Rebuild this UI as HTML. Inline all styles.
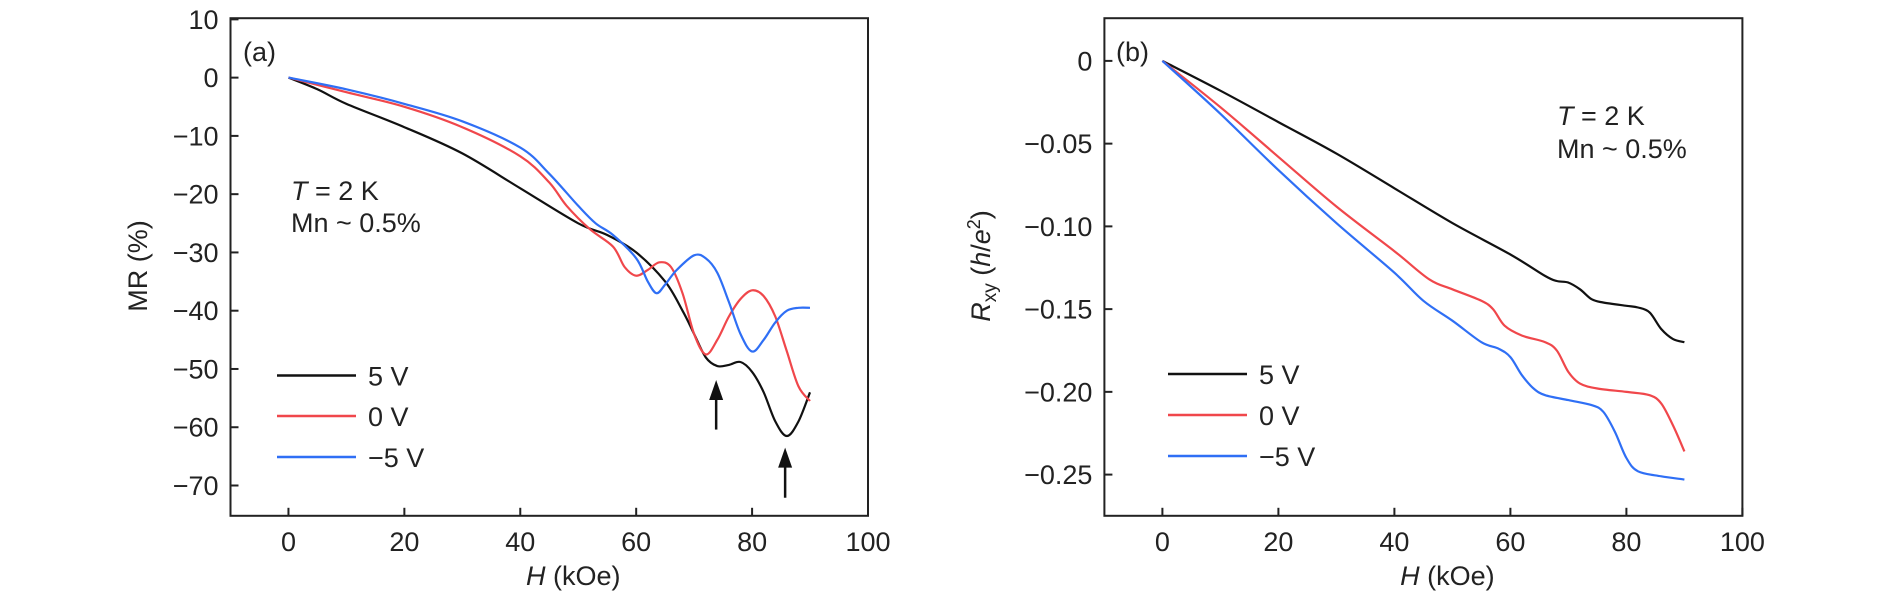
<!DOCTYPE html>
<html><head><meta charset="utf-8">
<style>
html,body{margin:0;padding:0;background:#fff;}
svg{display:block;font-family:"Liberation Sans",sans-serif;}
text{font-size:27px;fill:#222;}
</style></head>
<body>
<svg id="chart" width="1890" height="596" viewBox="0 0 1890 596"></svg>
<script>
// Panel (a) data: MR (%) vs H (kOe)
const aH5 = [0,5,10,20,30,40,50,55,60,65,68,70,72,74,76,78,80,82,84,86,88,90];
const aMR5 = [0,-2,-4.5,-8.5,-13,-19,-25,-27,-30,-35,-40,-44,-48,-49.5,-49.3,-48.8,-50.5,-54,-59,-61.5,-59,-54];
const aH0 = [0,10,20,30,40,45,48,52,56,58,60,62,64,66,68,70,72,74,76,78,80,82,84,86,88,90];
const aMR0 = [0,-2.5,-5,-8.5,-13.5,-18,-22,-26,-29,-32.5,-34,-33,-31.7,-32.5,-37,-44,-47.5,-45,-41,-38,-36.5,-37.5,-41,-47,-53,-55.5];
const aHm5 = [0,10,20,30,40,45,50,53,56,60,62,63.5,65,67,70,72,74,76,78,80,82,84,86,88,90];
const aMRm5 = [0,-2,-4.5,-7.5,-12,-16.5,-22,-25,-27,-31,-35,-37,-35.5,-33,-30.5,-31,-33.5,-38.5,-44,-47,-45,-42,-40,-39.5,-39.5];
const aYTicks = [10,0,-10,-20,-30,-40,-50,-60,-70];
const aYTickLabels = ["10","0","\u221210","\u221220","\u221230","\u221240","\u221250","\u221260","\u221270"];
const xTicks = [0,20,40,60,80,100];
const xTickLabels = ["0","20","40","60","80","100"];
const arrowH = [73.8,85.7];
const arrowTip = [-51.9,-63.5];
const arrowTail = [-60.4,-72.1];
// Panel (b) data: Rxy (h/e^2) vs H
const bH5 = [0,10,20,30,40,50,60,66,68,70,72,74,76,80,82,84,86,88,90];
const bR5 = [0,-0.018,-0.037,-0.056,-0.077,-0.098,-0.117,-0.13,-0.133,-0.134,-0.138,-0.144,-0.146,-0.148,-0.149,-0.152,-0.162,-0.168,-0.17];
const bH0 = [0,10,20,30,40,46,50,55,57,59,62,66,68,70,72,75,80,84,86,88,90];
const bR0 = [0,-0.028,-0.058,-0.088,-0.115,-0.132,-0.138,-0.145,-0.150,-0.160,-0.166,-0.170,-0.175,-0.188,-0.195,-0.198,-0.200,-0.202,-0.207,-0.220,-0.236];
const bHm5 = [0,10,20,30,40,45,50,55,58,60,62,64,66,70,74,76,78,80,82,86,90];
const bRm5 = [0,-0.032,-0.066,-0.098,-0.128,-0.145,-0.157,-0.170,-0.174,-0.179,-0.190,-0.198,-0.202,-0.205,-0.208,-0.212,-0.224,-0.240,-0.248,-0.251,-0.253];
const bYTicks = [0,-0.05,-0.10,-0.15,-0.20,-0.25];
const bYTickLabels = ["0","\u22120.05","\u22120.10","\u22120.15","\u22120.20","\u22120.25"];
const legendLabels = ["5 V","0 V","\u22125 V"];
const colors = ["#111","#f0474b","#2f6ff5"];

const NS="http://www.w3.org/2000/svg";
const svg=document.getElementById('chart');
function mk(tag,attrs,parent){const e=document.createElementNS(NS,tag);for(const k in attrs)e.setAttribute(k,attrs[k]);(parent||svg).appendChild(e);return e;}
function smooth(pts){
  let d='M'+pts[0][0].toFixed(1)+' '+pts[0][1].toFixed(1);
  for(let i=0;i<pts.length-1;i++){
    const p0=pts[Math.max(0,i-1)],p1=pts[i],p2=pts[i+1],p3=pts[Math.min(pts.length-1,i+2)];
    const c1x=p1[0]+(p2[0]-p0[0])/6,c1y=p1[1]+(p2[1]-p0[1])/6;
    const c2x=p2[0]-(p3[0]-p1[0])/6,c2y=p2[1]-(p3[1]-p1[1])/6;
    d+=` C${c1x.toFixed(1)} ${c1y.toFixed(1)} ${c2x.toFixed(1)} ${c2y.toFixed(1)} ${p2[0].toFixed(1)} ${p2[1].toFixed(1)}`;
  }
  return d;
}

function panel(cfg){
  const g=mk('g',{});
  
  
  const sx=v=>cfg.x0+(v-cfg.xmin)/(cfg.xmax-cfg.xmin)*(cfg.x1-cfg.x0);
  const sy=v=>cfg.y1-(v-cfg.ymin)/(cfg.ymax-cfg.ymin)*(cfg.y1-cfg.y0);
  const box=mk('rect',{x:cfg.x0,y:cfg.y0,width:cfg.x1-cfg.x0,height:cfg.y1-cfg.y0,fill:'none',stroke:'#222','stroke-width':2},g);
  
  
  xTicks.forEach((t,i)=>{
    const x=sx(t);
    mk('line',{x1:x,x2:x,y1:cfg.y1,y2:cfg.y1-8,stroke:'#222','stroke-width':2},g);
    const tx=mk('text',{x:x,y:551,'text-anchor':'middle'},g);
    tx.textContent=xTickLabels[i];
    
    
  });
  cfg.yt.forEach((t,i)=>{
    const y=sy(t);
    mk('line',{x1:cfg.x0,x2:cfg.x0+8,y1:y,y2:y,stroke:'#222','stroke-width':2},g);
    const tx=mk('text',{x:cfg.x0-12,y:y+9.5,'text-anchor':'end'},g);
    tx.textContent=cfg.ytl[i];
    
    
  });
  cfg.series.forEach((s,i)=>{
    const pts=s[0].map((h,j)=>[sx(h),sy(s[1][j])]);
    const p=mk('path',{d:smooth(pts),fill:'none',stroke:colors[i],'stroke-width':2.2,'stroke-linejoin':'round'},g);
    
    
  });
  legendLabels.forEach((l,i)=>{
    const y=cfg.legY[i];
    const ln=mk('line',{x1:cfg.legX,x2:cfg.legX+79,y1:y,y2:y,stroke:colors[i],'stroke-width':2.5},g);
    
    
    const tx=mk('text',{x:cfg.legX+91,y:y+10},g);
    tx.textContent=l;
    
    
  });
  const xt=mk('text',{x:(sx(0)+sx(100))/2 - 5,y:585,'text-anchor':'middle'},g);
  xt.innerHTML='<tspan font-style="italic">H</tspan> (kOe)';
  
  
  return {sx,sy,g};
}

const A=panel({name:'panel-a',x0:230.5,x1:868,y0:18.2,y1:515.8,xmin:-10,xmax:100,ymin:-75.2,ymax:10.2,
  yt:aYTicks,ytl:aYTickLabels,series:[[aH5,aMR5],[aH0,aMR0],[aHm5,aMRm5]],legX:277,legY:[375.5,416,457]});
arrowH.forEach((h,i)=>{
  const x=A.sx(h),yt=A.sy(arrowTip[i]),yb=A.sy(arrowTail[i]);
  const a=mk('g',{},A.g);
  
  
  mk('line',{x1:x,x2:x,y1:yb,y2:yt+12,stroke:'#111','stroke-width':2.5},a);
  mk('polygon',{points:`${x},${yt} ${x-7},${yt+20} ${x+7},${yt+20}`,fill:'#111'},a);
});
const yl=mk('text',{x:0,y:0,'text-anchor':'middle',transform:'translate(147,266) rotate(-90)'},A.g);
yl.textContent='MR (%)';


const la=mk('text',{x:243,y:61},A.g);la.textContent='(a)';


const ta=mk('text',{x:291,y:200},A.g);ta.innerHTML='<tspan font-style="italic">T</tspan> = 2 K';


const ma=mk('text',{x:291,y:232},A.g);ma.textContent='Mn ~ 0.5%';



const B=panel({name:'panel-b',x0:1104.4,x1:1742.4,y0:18.2,y1:515.8,xmin:-10,xmax:100,ymin:-0.2749,ymax:0.0258,
  yt:bYTicks,ytl:bYTickLabels,series:[[bH5,bR5],[bH0,bR0],[bHm5,bRm5]],legX:1168,legY:[374,415,456]});
const yl2=mk('text',{x:0,y:0,'text-anchor':'middle',transform:'translate(990,266) rotate(-90)'},B.g);
yl2.innerHTML='<tspan font-style="italic">R</tspan><tspan font-size="19" dy="6">xy</tspan><tspan dy="-6"> (</tspan><tspan font-style="italic">h</tspan>/<tspan font-style="italic">e</tspan><tspan font-size="18" dy="-10">2</tspan><tspan dy="10">)</tspan>';


const lb=mk('text',{x:1116,y:61},B.g);lb.textContent='(b)';


const tb=mk('text',{x:1557,y:125},B.g);tb.innerHTML='<tspan font-style="italic">T</tspan> = 2 K';


const mb=mk('text',{x:1557,y:158},B.g);mb.textContent='Mn ~ 0.5%';


</script>
</body></html>
